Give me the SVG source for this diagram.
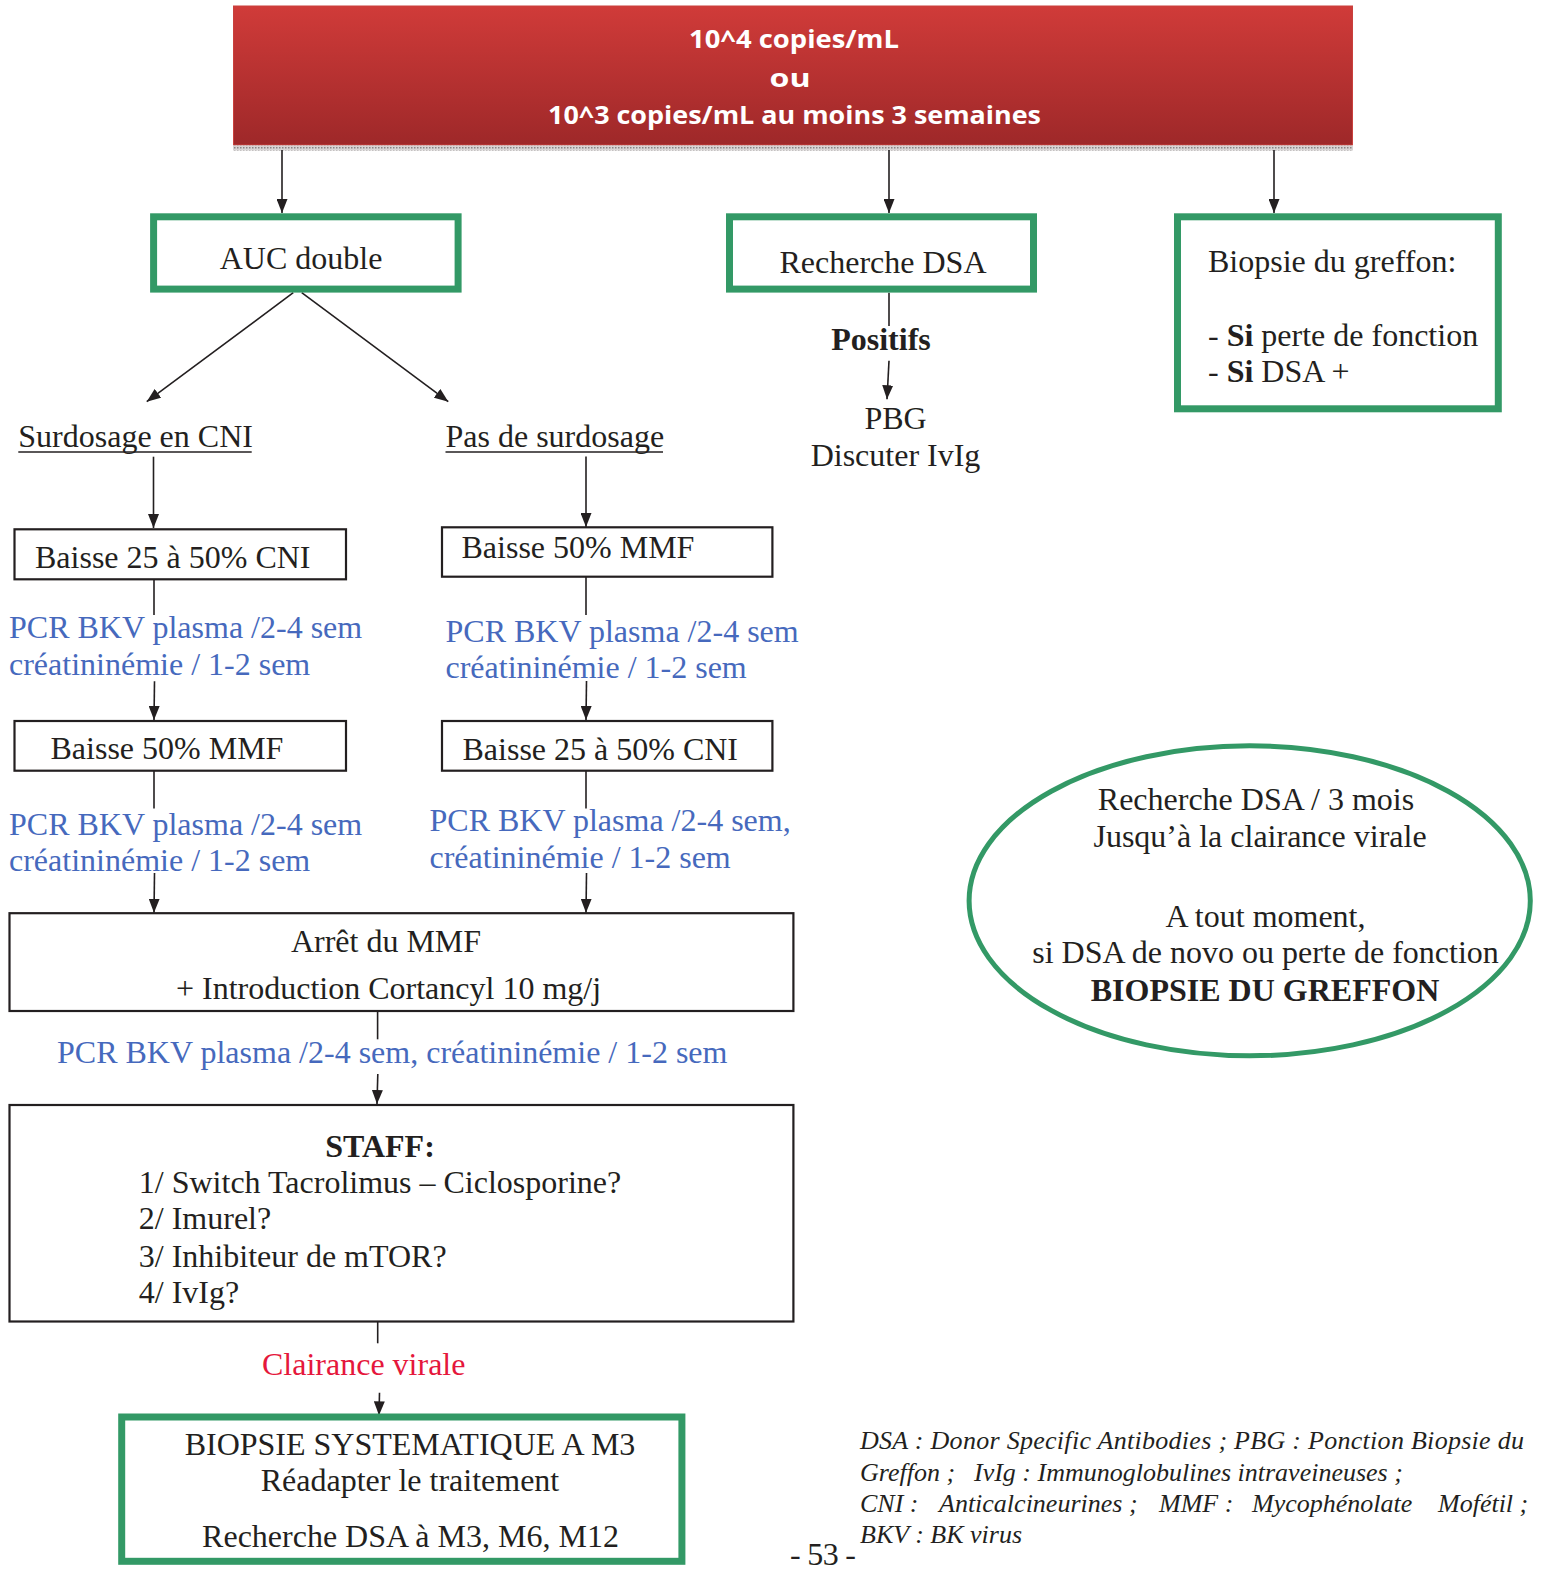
<svg xmlns="http://www.w3.org/2000/svg" width="1542" height="1573" viewBox="0 0 1542 1573">
<defs>
<linearGradient id="redg" x1="0" y1="0" x2="0" y2="1">
<stop offset="0" stop-color="#d03b39"/>
<stop offset="1" stop-color="#9e2829"/>
</linearGradient>
<pattern id="dots" width="3" height="3" patternUnits="userSpaceOnUse">
<rect width="3" height="3" fill="#d8d4d4"/>
<rect width="1.5" height="1.5" fill="#8a8585"/>
</pattern>
<marker id="arr" viewBox="0 0 14 11" refX="14" refY="5.5" markerWidth="14" markerHeight="11" markerUnits="userSpaceOnUse" orient="auto">
<path d="M0,0 L14,5.5 L0,11 z" fill="#231f20"/>
</marker>
</defs>
<style>
text{font-family:"Liberation Serif","Times New Roman",serif;font-size:32px;fill:#231f20}
.top{font-family:"Open Sans","Noto Sans",sans-serif;font-weight:bold;font-size:25px;fill:#ffffff;text-anchor:middle}
.c{text-anchor:middle}
.b{font-weight:bold}
.blue{fill:#4669bd}
.red{fill:#e5173c}
.leg{font-style:italic;font-size:26px}
.gbox{fill:none;stroke:#339966;stroke-width:7}
.kbox{fill:#ffffff;stroke:#231f20;stroke-width:2.2}
.ln{stroke:#231f20;stroke-width:1.6;fill:none}
.ar{stroke:#231f20;stroke-width:1.6;fill:none;marker-end:url(#arr)}
.ul{stroke:#231f20;stroke-width:1.6}
</style>
<rect width="1542" height="1573" fill="#ffffff"/>

<g id="top">
<rect x="233.5" y="6" width="1119" height="139" fill="url(#redg)" stroke="#c9403d" stroke-width="1"/>
<rect x="233" y="145.5" width="1120" height="5" fill="url(#dots)"/>
<text class="top" x="794" y="48" textLength="210" lengthAdjust="spacingAndGlyphs">10^4 copies/mL</text>
<text class="top" x="790" y="87" textLength="41" lengthAdjust="spacingAndGlyphs">ou</text>
<text class="top" x="794.5" y="124" textLength="493" lengthAdjust="spacingAndGlyphs">10^3 copies/mL au moins 3 semaines</text>
</g>

<g id="connectors">
<line class="ar" x1="282" y1="150" x2="282" y2="213"/>
<line class="ar" x1="889" y1="150" x2="889" y2="213"/>
<line class="ar" x1="1274" y1="150" x2="1274" y2="213"/>
<line class="ar" x1="293.3" y1="292.7" x2="146.7" y2="401.7"/>
<line class="ar" x1="301.7" y1="292.7" x2="448.3" y2="401.7"/>
<line class="ar" x1="153.5" y1="456.7" x2="153.5" y2="528"/>
<line class="ar" x1="586" y1="456.5" x2="586" y2="527"/>
<line class="ln" x1="889" y1="292.7" x2="889" y2="326"/>
<line class="ar" x1="889" y1="360.7" x2="887" y2="399.3"/>
<line class="ln" x1="154" y1="579" x2="154" y2="615"/>
<line class="ar" x1="154.5" y1="681.3" x2="154" y2="720"/>
<line class="ln" x1="586" y1="577" x2="586" y2="615"/>
<line class="ar" x1="586.5" y1="681" x2="586" y2="720"/>
<line class="ln" x1="154" y1="771" x2="154" y2="808.5"/>
<line class="ar" x1="154.5" y1="873" x2="154" y2="912.7"/>
<line class="ln" x1="586" y1="770.7" x2="586" y2="808.5"/>
<line class="ar" x1="586.5" y1="873" x2="586" y2="912.7"/>
<line class="ln" x1="377.6" y1="1011" x2="377.6" y2="1039.3"/>
<line class="ar" x1="377.8" y1="1074" x2="377" y2="1104"/>
<line class="ln" x1="377.7" y1="1321" x2="377.7" y2="1343.3"/>
<line class="ar" x1="379.5" y1="1392.7" x2="379" y2="1415.3"/>
</g>

<g id="auc">
<rect class="gbox" x="153.6" y="216.8" width="304.5" height="72.3"/>
<text class="c" x="301" y="269.3">AUC double</text>
</g>

<g id="dsa">
<rect class="gbox" x="729.5" y="216.8" width="304" height="72.3"/>
<text class="c" x="883" y="273.3">Recherche DSA</text>
</g>

<g id="positifs">
<text class="c b" x="881" y="349.5">Positifs</text>
</g>

<g id="pbg">
<text class="c" x="895.5" y="428.8">PBG</text>
<text class="c" x="895.5" y="465.5">Discuter IvIg</text>
</g>

<g id="biopsie">
<rect class="gbox" x="1177.5" y="216.8" width="320.8" height="192"/>
<text x="1208" y="271.7">Biopsie du greffon:</text>
<text x="1208" y="345.5">- <tspan class="b">Si</tspan> perte de fonction</text>
<text x="1208" y="382.2">- <tspan class="b">Si</tspan> DSA +</text>
</g>

<g id="surdosage">
<text x="18.3" y="446.7">Surdosage en CNI</text>
<line class="ul" x1="18.3" y1="452" x2="251.7" y2="452"/>
</g>

<g id="pas-surdosage">
<text x="445.5" y="447">Pas de surdosage</text>
<line class="ul" x1="445.5" y1="452" x2="663" y2="452"/>
</g>

<g id="baisse-cni-1">
<rect class="kbox" x="14.5" y="529.3" width="331.5" height="50"/>
<text x="35" y="568.3">Baisse 25 à 50% CNI</text>
</g>

<g id="baisse-mmf-1">
<rect class="kbox" x="442" y="527.3" width="330.4" height="49.4"/>
<text x="461.5" y="558.3">Baisse 50% MMF</text>
</g>

<g id="pcr-l1">
<text class="blue" x="9" y="638.3">PCR BKV plasma /2-4 sem</text>
<text class="blue" x="9" y="675">créatininémie / 1-2 sem</text>
</g>

<g id="pcr-r1">
<text class="blue" x="445.5" y="641.7">PCR BKV plasma /2-4 sem</text>
<text class="blue" x="445.5" y="678.3">créatininémie / 1-2 sem</text>
</g>

<g id="baisse-mmf-2">
<rect class="kbox" x="14.5" y="721" width="331.5" height="49.7"/>
<text x="50.5" y="759.3">Baisse 50% MMF</text>
</g>

<g id="baisse-cni-2">
<rect class="kbox" x="442" y="721" width="330.4" height="49.7"/>
<text x="462.5" y="760">Baisse 25 à 50% CNI</text>
</g>

<g id="pcr-l2">
<text class="blue" x="9" y="835">PCR BKV plasma /2-4 sem</text>
<text class="blue" x="9" y="870.5">créatininémie / 1-2 sem</text>
</g>

<g id="pcr-r2">
<text class="blue" x="429.5" y="830.5">PCR BKV plasma /2-4 sem,</text>
<text class="blue" x="429.5" y="867.5">créatininémie / 1-2 sem</text>
</g>

<g id="arret">
<rect class="kbox" x="9.5" y="913.2" width="783.9" height="97.8"/>
<text class="c" x="386" y="951.7">Arrêt du MMF</text>
<text class="c" x="388.5" y="999.3">+ Introduction Cortancyl 10 mg/j</text>
</g>

<g id="pcr-c">
<text class="blue" x="57" y="1063.3">PCR BKV plasma /2-4 sem, créatininémie / 1-2 sem</text>
</g>

<g id="staff">
<rect class="kbox" x="9.5" y="1105" width="783.9" height="216.5"/>
<text class="c b" x="380" y="1156.7">STAFF:</text>
<text x="138.8" y="1192.7">1/ Switch Tacrolimus – Ciclosporine?</text>
<text x="138.8" y="1229.3">2/ Imurel?</text>
<text x="138.8" y="1266.7">3/ Inhibiteur de mTOR?</text>
<text x="138.8" y="1302.7">4/ IvIg?</text>
</g>

<g id="clairance">
<text class="red" x="262" y="1375">Clairance virale</text>
</g>

<g id="biopsie-m3">
<rect class="gbox" x="121.7" y="1417" width="560.2" height="144.3"/>
<text class="c" x="410" y="1455">BIOPSIE SYSTEMATIQUE A M3</text>
<text class="c" x="410" y="1490.7">Réadapter le traitement</text>
<text class="c" x="410.5" y="1546.7">Recherche DSA à M3, M6, M12</text>
</g>

<g id="ellipse">
<ellipse cx="1249.7" cy="900.8" rx="280.6" ry="155" fill="none" stroke="#339966" stroke-width="5"/>
<text class="c" x="1256" y="810">Recherche DSA / 3 mois</text>
<text class="c" x="1260" y="846.7">Jusqu’à la clairance virale</text>
<text class="c" x="1265.5" y="926.7">A tout moment,</text>
<text class="c" x="1265.5" y="963.3">si DSA de novo ou perte de fonction</text>
<text class="c b" x="1265" y="1000.7">BIOPSIE DU GREFFON</text>
</g>

<g id="legend">
<text class="leg" x="860" y="1449" textLength="664">DSA : Donor Specific Antibodies ; PBG : Ponction Biopsie du</text>
<text class="leg" x="860" y="1481">Greffon ;</text>
<text class="leg" x="974" y="1481">IvIg : Immunoglobulines intraveineuses ;</text>
<text class="leg" x="860" y="1512">CNI :</text>
<text class="leg" x="939" y="1512">Anticalcineurines ;</text>
<text class="leg" x="1159" y="1512">MMF :</text>
<text class="leg" x="1252" y="1512">Mycophénolate</text>
<text class="leg" x="1438" y="1512">Mofétil ;</text>
<text class="leg" x="860" y="1543">BKV : BK virus</text>
</g>

<g id="page">
<text x="790" y="1565" font-size="28" textLength="66">- 53 -</text>
</g>
</svg>
